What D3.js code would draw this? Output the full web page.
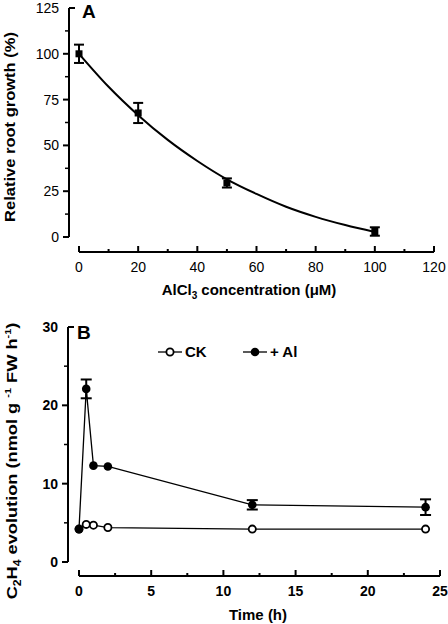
<!DOCTYPE html>
<html><head><meta charset="utf-8">
<script src="https://cdn.jsdelivr.net/npm/d3@7"></script>
<style>
html,body{margin:0;padding:0;background:#fff;}
svg{display:block;font-family:"Liberation Sans",Arial,Helvetica,sans-serif;}
</style></head><body>
<script>
// Panel A data
const concA = [0, 20, 50, 100];
const growthA = [100, 67.7, 29.5, 3];
const errA = [5, 5.5, 2.5, 2.3];
const fitX = [0, 10, 20, 30, 40, 50, 60, 70, 80, 90, 100];
const fitY = [100, 82, 66.5, 53, 41.5, 31.5, 23.5, 16.5, 11, 6.5, 2.7];
const xTicksA = [0, 20, 40, 60, 80, 100, 120];
const yTicksA = [0, 25, 50, 75, 100, 125];

// Panel B data
const timeB = [0, 0.5, 1, 2, 12, 24];
const ck = [4.2, 4.8, 4.7, 4.4, 4.2, 4.2];
const al = [4.2, 22.1, 12.3, 12.2, 7.3, 7.0];
const alErr = [0, 1.2, 0, 0, 0.6, 1.0];
const xTicksB = [0, 5, 10, 15, 20, 25];
const yTicksB = [0, 10, 20, 30];

const W = 448, H = 624;
const svg = d3.select("body").append("svg").attr("width", W).attr("height", H);

function yAxis(g, y, ticks, minorStep, x0, bold) {
  const [d0, d1] = y.domain();
  g.append("line").attr("x1", x0).attr("x2", x0).attr("y1", y(d1)).attr("y2", y(d0))
    .attr("stroke", "#000").attr("stroke-width", 2);
  for (let v = d0; v <= d1 + 1e-9; v += minorStep) {
    const isMajor = ticks.some(t => Math.abs(t - v) < 1e-9);
    if (isMajor) continue;
    g.append("line").attr("x1", x0 - 4).attr("x2", x0).attr("y1", y(v)).attr("y2", y(v))
      .attr("stroke", "#000").attr("stroke-width", 1.5);
  }
  ticks.forEach(t => {
    const top = Math.abs(t - d1) < 1e-9;
    g.append("line").attr("x1", top ? x0 : x0 - 6).attr("x2", top ? x0 + 6 : x0)
      .attr("y1", y(t)).attr("y2", y(t)).attr("stroke", "#000").attr("stroke-width", 2);
    g.append("text").attr("x", x0 - 10).attr("y", y(t)).attr("dy", "0.35em")
      .attr("text-anchor", "end").attr("font-size", 14)
      .attr("font-weight", bold ? "bold" : "normal").text(t);
  });
}
function xAxis(g, x, ticks, minorStep, y0, bold) {
  const [d0, d1] = x.domain();
  g.append("line").attr("x1", x(d0)).attr("x2", x(d1)).attr("y1", y0).attr("y2", y0)
    .attr("stroke", "#000").attr("stroke-width", 2);
  for (let v = d0; v <= d1 + 1e-9; v += minorStep) {
    const isMajor = ticks.some(t => Math.abs(t - v) < 1e-9);
    g.append("line").attr("x1", x(v)).attr("x2", x(v)).attr("y1", y0 - (isMajor ? 6 : 3)).attr("y2", y0)
      .attr("stroke", "#000").attr("stroke-width", 2);
  }
  ticks.forEach(t => {
    g.append("text").attr("x", x(t)).attr("y", y0 + 15).attr("dy", "0.35em")
      .attr("text-anchor", "middle").attr("font-size", 14)
      .attr("font-weight", bold ? "bold" : "normal").text(t);
  });
}
// stretch a rotated label along its reading direction to a target length
function fitLabel(sel, cx, cy, target) {
  const len = sel.node().getComputedTextLength();
  const k = target / len;
  sel.attr("transform", `translate(${cx},${cy}) rotate(-90) scale(${k},1)`);
}

// ---------- Panel A ----------
const gA = svg.append("g");
const xA = d3.scaleLinear().domain([0, 120]).range([79, 434]);
const yA = d3.scaleLinear().domain([0, 125]).range([237, 8]);
yAxis(gA, yA, yTicksA, 12.5, 69, false);
xAxis(gA, xA, xTicksA, 10, 252, false);

gA.append("path").datum(fitX.map((v, i) => [v, fitY[i]]))
  .attr("d", d3.line().x(d => xA(d[0])).y(d => yA(d[1])).curve(d3.curveMonotoneX))
  .attr("fill", "none").attr("stroke", "#000").attr("stroke-width", 2);

concA.forEach((c, i) => {
  const cx = xA(c), top = yA(growthA[i] + errA[i]), bot = yA(growthA[i] - errA[i]);
  gA.append("line").attr("x1", cx).attr("x2", cx).attr("y1", top).attr("y2", bot).attr("stroke", "#000").attr("stroke-width", 2);
  [top, bot].forEach(yy => gA.append("line").attr("x1", cx - 5).attr("x2", cx + 5).attr("y1", yy).attr("y2", yy).attr("stroke", "#000").attr("stroke-width", 2));
  gA.append("rect").attr("x", cx - 3.5).attr("y", yA(growthA[i]) - 3.5).attr("width", 7).attr("height", 7).attr("fill", "#000");
});

gA.append("text").attr("x", 82).attr("y", 18).attr("font-size", 19).attr("font-weight", "bold").text("A");
const ylA = gA.append("text").attr("text-anchor", "middle")
  .attr("font-size", 15).attr("font-weight", "bold").text("Relative root growth (%)");
fitLabel(ylA, 15, 127, 190);
const xlA = gA.append("text").attr("x", 249).attr("y", 295).attr("text-anchor", "middle")
  .attr("font-size", 15).attr("font-weight", "bold");
xlA.append("tspan").text("AlCl");
xlA.append("tspan").attr("font-size", 10).attr("dy", 4).text("3");
xlA.append("tspan").attr("dy", -4).text(" concentration (\u03BCM)");

// ---------- Panel B ----------
const gB = svg.append("g");
const xB = d3.scaleLinear().domain([0, 25]).range([79, 440]);
const yB = d3.scaleLinear().domain([0, 30]).range([562, 327]);
yAxis(gB, yB, yTicksB, 5, 68, true);
xAxis(gB, xB, xTicksB, 2.5, 576, true);

const lineB = d3.line().x((d, i) => xB(timeB[i])).y(d => yB(d));
gB.append("path").datum(ck).attr("d", lineB).attr("fill", "none").attr("stroke", "#000").attr("stroke-width", 1.3);
gB.append("path").datum(al).attr("d", lineB).attr("fill", "none").attr("stroke", "#000").attr("stroke-width", 1.3);

timeB.forEach((t, i) => {
  if (alErr[i] > 0) {
    const cx = xB(t), top = yB(al[i] + alErr[i]), bot = yB(al[i] - alErr[i]);
    gB.append("line").attr("x1", cx).attr("x2", cx).attr("y1", top).attr("y2", bot).attr("stroke", "#000").attr("stroke-width", 2);
    [top, bot].forEach(yy => gB.append("line").attr("x1", cx - 5.5).attr("x2", cx + 5.5).attr("y1", yy).attr("y2", yy).attr("stroke", "#000").attr("stroke-width", 2));
  }
});
timeB.forEach((t, i) => {
  gB.append("circle").attr("cx", xB(t)).attr("cy", yB(ck[i])).attr("r", 3.6)
    .attr("fill", "#fff").attr("stroke", "#000").attr("stroke-width", 1.8);
});
timeB.forEach((t, i) => {
  gB.append("circle").attr("cx", xB(t)).attr("cy", yB(al[i])).attr("r", 4.3).attr("fill", "#000");
});

// legend
const lg = gB.append("g");
lg.append("line").attr("x1", 158).attr("x2", 182).attr("y1", 352).attr("y2", 352).attr("stroke", "#000").attr("stroke-width", 1.3);
lg.append("circle").attr("cx", 170).attr("cy", 352).attr("r", 3.6).attr("fill", "#fff").attr("stroke", "#000").attr("stroke-width", 1.8);
lg.append("text").attr("x", 185).attr("y", 352).attr("dy", "0.35em").attr("font-size", 15).attr("font-weight", "bold").text("CK");
lg.append("line").attr("x1", 243).attr("x2", 267).attr("y1", 352).attr("y2", 352).attr("stroke", "#000").attr("stroke-width", 1.3);
lg.append("circle").attr("cx", 255).attr("cy", 352).attr("r", 4.3).attr("fill", "#000");
lg.append("text").attr("x", 270).attr("y", 352).attr("dy", "0.35em").attr("font-size", 15).attr("font-weight", "bold").text("+ Al");

gB.append("text").attr("x", 77).attr("y", 339).attr("font-size", 19).attr("font-weight", "bold").text("B");

const ylB = gB.append("text").attr("text-anchor", "middle")
  .attr("font-size", 15).attr("font-weight", "bold");
ylB.append("tspan").text("C");
ylB.append("tspan").attr("font-size", 10).attr("dy", 4).text("2");
ylB.append("tspan").attr("dy", -4).text("H");
ylB.append("tspan").attr("font-size", 10).attr("dy", 4).text("4");
ylB.append("tspan").attr("dy", -4).text(" evolution (nmol g ");
ylB.append("tspan").attr("font-size", 9).attr("dy", -6).text("-1");
ylB.append("tspan").attr("dy", 6).text(" FW h");
ylB.append("tspan").attr("font-size", 9).attr("dy", -6).text("-1");
ylB.append("tspan").attr("dy", 6).text(")");
fitLabel(ylB, 17, 461, 277);

gB.append("text").attr("x", 258).attr("y", 620).attr("text-anchor", "middle")
  .attr("font-size", 15).attr("font-weight", "bold").text("Time (h)");
</script>
</body></html>
